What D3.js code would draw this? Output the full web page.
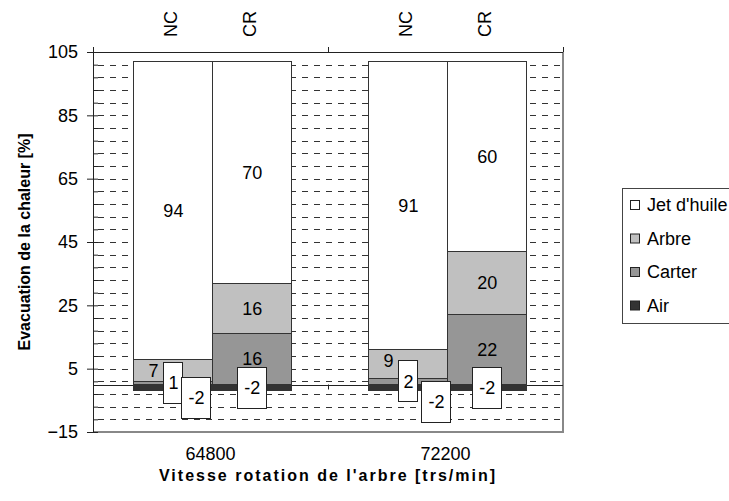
<!DOCTYPE html>
<html>
<head>
<meta charset="utf-8">
<script src="https://cdn.jsdelivr.net/npm/d3@7"></script>
<style>
body { margin: 0; background: #fff; }
svg { display: block; font-family: "Liberation Sans", Arial, sans-serif; }
</style>
</head>
<body>
<div id="chart"></div>
<script>
// data
var groups = ["64800", "72200"];
var bars = ["NC", "CR"];
var legendOrder = ["Jet d'huile", "Arbre", "Carter", "Air"];
// one value per bar: 64800 NC, 64800 CR, 72200 NC, 72200 CR
var jet = [94, 70, 91, 60];
var arbre = [7, 16, 9, 20];
var carter = [1, 16, 2, 22];
var air = [-2, -2, -2, -2];
var yTicks = [105, 85, 65, 45, 25, 5, -15];

var colors = { "Jet d'huile": "#ffffff", "Arbre": "#c0c0c0", "Carter": "#969696", "Air": "#333333" };
// label nudges (px) where the original moved crowded labels aside
var nudge = { "0-Air": [23, 10], "2-Air": [28, 14], "0-Arbre": [-20, 0], "2-Arbre": [-20, -3] };

var width = 729, height = 501;
var plotLeft = 93, plotRight = 563, plotTop = 52, plotBottom = 432;

var rows = [];
groups.forEach(function(g, gi) {
    bars.forEach(function(b, bi) {
        var i = gi * 2 + bi;
        rows.push({ group: g, bar: b, idx: i,
            "Jet d'huile": jet[i], "Arbre": arbre[i], "Carter": carter[i], "Air": air[i] });
    });
});

var stackKeys = ["Carter", "Arbre", "Jet d'huile", "Air"];
var stacked = d3.stack().keys(stackKeys).offset(d3.stackOffsetDiverging)(rows);

var x0 = d3.scaleBand().domain(groups).range([plotLeft, plotRight]);
var x1 = d3.scaleBand().domain(bars).range([0, x0.bandwidth()])
    .paddingInner(0).paddingOuter(0.49).align(0.53);
var y = d3.scaleLinear().domain([-15, 105]).range([plotBottom, plotTop]);

var svg = d3.select("#chart").append("svg")
    .attr("width", width)
    .attr("height", height);

svg.append("rect").attr("width", width).attr("height", height).attr("fill", "#fff");

// dashed grid every 4 units
var minor = d3.range(-15, 106, 4);
svg.append("g")
    .selectAll("line")
    .data(minor.filter(function(v) { return v > -15 && v < 105; }))
    .enter().append("line")
    .attr("x1", plotLeft).attr("x2", plotRight)
    .attr("y1", function(d) { return Math.round(y(d)) + 0.5; })
    .attr("y2", function(d) { return Math.round(y(d)) + 0.5; })
    .attr("stroke", "#333")
    .attr("stroke-dasharray", "6,6")
    .attr("stroke-dashoffset", -5);

// plot border right and bottom (grey)
svg.append("line").attr("x1", plotRight).attr("x2", plotRight).attr("y1", plotTop).attr("y2", plotBottom + 1)
    .attr("stroke", "#888").attr("stroke-width", 2);
svg.append("line").attr("x1", plotLeft).attr("x2", plotRight + 1).attr("y1", plotBottom).attr("y2", plotBottom)
    .attr("stroke", "#888").attr("stroke-width", 2);

// zero line
svg.append("line")
    .attr("x1", plotLeft).attr("x2", plotRight)
    .attr("y1", Math.round(y(0)) + 0.5).attr("y2", Math.round(y(0)) + 0.5)
    .attr("stroke", "#222");

// bars
var layer = svg.append("g").selectAll("g")
    .data(stacked)
    .enter().append("g")
    .attr("fill", function(d) { return colors[d.key]; });

layer.selectAll("rect")
    .data(function(d) { return d; })
    .enter().append("rect")
    .attr("x", function(d) { return x0(d.data.group) + x1(d.data.bar); })
    .attr("width", x1.bandwidth())
    .attr("y", function(d) { return y(Math.max(d[0], d[1])); })
    .attr("height", function(d) { return Math.abs(y(d[0]) - y(d[1])); })
    .attr("stroke", "#333")
    .attr("stroke-width", 1)
    .attr("shape-rendering", "crispEdges");

// data labels
var labels = [];
stacked.forEach(function(s) {
    s.forEach(function(d) {
        var v = d.data[s.key];
        var n = nudge[d.data.idx + "-" + s.key] || [0, 0];
        labels.push({
            v: v,
            boxed: Math.abs(v) <= 2,
            x: x0(d.data.group) + x1(d.data.bar) + x1.bandwidth() / 2 + n[0],
            y: y((d[0] + d[1]) / 2) + n[1]
        });
    });
});

var lab = svg.append("g").selectAll("g")
    .data(labels)
    .enter().append("g")
    .attr("transform", function(d) { return "translate(" + d.x + "," + d.y + ")"; });

lab.filter(function(d) { return d.boxed; })
    .append("rect")
    .attr("x", function(d) { return -(String(d.v).length * 10) / 2 - 4.5; })
    .attr("width", function(d) { return String(d.v).length * 10 + 9; })
    .attr("y", -20.5)
    .attr("height", 41)
    .attr("fill", "#fff")
    .attr("stroke", "#222")
    .attr("shape-rendering", "crispEdges");

lab.append("text")
    .attr("text-anchor", "middle")
    .attr("dy", "0.35em")
    .style("font-size", "18px")
    .text(function(d) { return Math.round(d.v); });

// top axis with NC / CR labels
svg.append("line").attr("x1", plotLeft).attr("x2", plotRight)
    .attr("y1", plotTop + 0.5).attr("y2", plotTop + 0.5).attr("stroke", "#222");
var bounds = [plotLeft].concat(groups.map(function(g) { return x0(g) + x0.bandwidth(); }));
svg.append("g").selectAll("line")
    .data(bounds)
    .enter().append("line")
    .attr("x1", function(d) { return Math.round(d) + 0.5; })
    .attr("x2", function(d) { return Math.round(d) + 0.5; })
    .attr("y1", plotTop - 5).attr("y2", plotTop)
    .attr("stroke", "#222");
svg.append("g").selectAll("line")
    .data(bounds.slice(1, -1))
    .enter().append("line")
    .attr("x1", function(d) { return Math.round(d) + 0.5; })
    .attr("x2", function(d) { return Math.round(d) + 0.5; })
    .attr("y1", y(0)).attr("y2", y(0) + 5)
    .attr("stroke", "#222");

svg.append("g").selectAll("text")
    .data(rows)
    .enter().append("text")
    .attr("transform", function(d) {
        var cx = x0(d.group) + x1(d.bar) + x1.bandwidth() / 2 - 3;
        return "translate(" + cx + ",37) rotate(-90)";
    })
    .attr("dy", "0.35em")
    .style("font-size", "18px")
    .text(function(d) { return d.bar; });

// y axis
var yAxis = svg.append("g")
    .attr("transform", "translate(" + plotLeft + ",0)")
    .call(d3.axisLeft(y).tickValues(yTicks).tickSize(6).tickPadding(9).tickFormat(d3.format("d")));
yAxis.select(".domain").attr("stroke", "#222");
yAxis.selectAll(".tick line").attr("stroke", "#222");
yAxis.selectAll("text").style("font-size", "18px").attr("fill", "#000")
    .style("font-family", "'Liberation Sans', Arial, sans-serif");

var yMinor = svg.append("g")
    .attr("transform", "translate(" + plotLeft + ",0)")
    .call(d3.axisRight(y).tickValues(minor).tickSize(5).tickFormat(""));
yMinor.select(".domain").remove();
yMinor.selectAll(".tick line").attr("stroke", "#222");

// category labels
svg.append("g").selectAll("text")
    .data(groups)
    .enter().append("text")
    .attr("x", function(d) { return x0(d) + x0.bandwidth() / 2; })
    .attr("y", 460)
    .attr("text-anchor", "middle")
    .style("font-size", "18px")
    .text(function(d) { return d; });

// axis titles
svg.append("text")
    .attr("x", (plotLeft + plotRight) / 2)
    .attr("y", 481)
    .attr("text-anchor", "middle")
    .style("font-size", "16px")
    .style("font-weight", "bold")
    .style("letter-spacing", "2px")
    .text("Vitesse rotation de l'arbre [trs/min]");

svg.append("text")
    .attr("transform", "translate(24," + ((plotTop + plotBottom) / 2) + ") rotate(-90)")
    .attr("text-anchor", "middle")
    .attr("dy", "0.35em")
    .style("font-size", "16px")
    .style("font-weight", "bold")
    .text("Evacuation de la chaleur [%]");

// legend
var legend = svg.append("g").attr("transform", "translate(622,188)");
legend.append("rect")
    .attr("x", 0.5).attr("y", 0.5)
    .attr("width", 130).attr("height", 135)
    .attr("fill", "#fff")
    .attr("stroke", "#444");

var item = legend.selectAll(".item")
    .data(legendOrder)
    .enter().append("g")
    .attr("class", "item")
    .attr("transform", function(d, i) { return "translate(0," + (17 + i * 33.5) + ")"; });

item.append("rect")
    .attr("x", 8.5).attr("y", -4.5)
    .attr("width", 9).attr("height", 9)
    .attr("fill", function(d) { return colors[d]; })
    .attr("stroke", "#222");

item.append("text")
    .attr("x", 25)
    .attr("dy", "0.35em")
    .style("font-size", "18px")
    .text(function(d) { return d; });
</script>
</body>
</html>
